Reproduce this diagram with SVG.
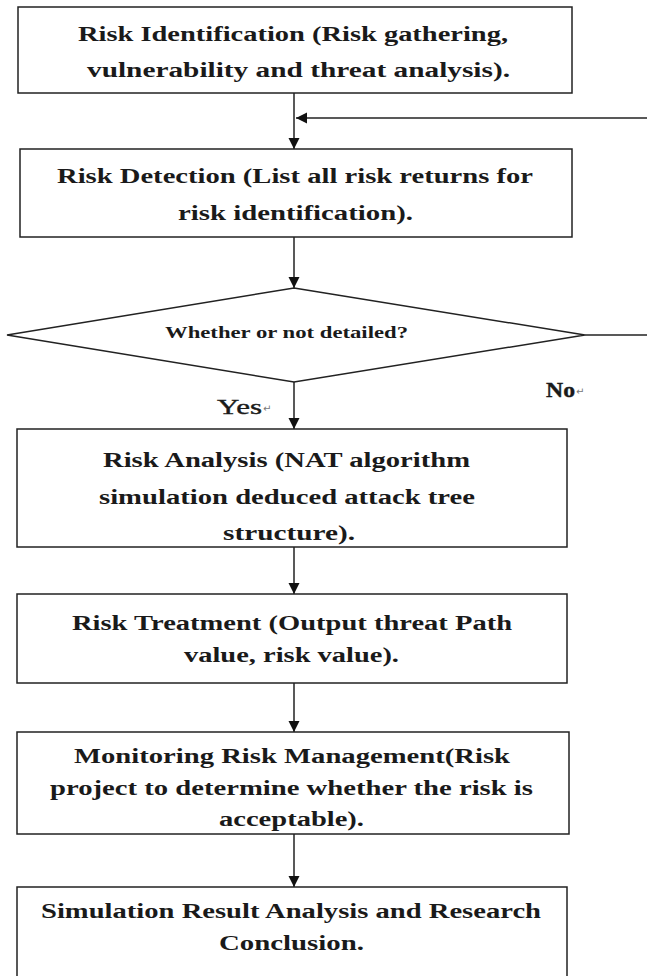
<svg xmlns="http://www.w3.org/2000/svg" width="647" height="976" viewBox="0 0 647 976">
<style>
.box{fill:#fff;stroke:#222;stroke-width:1.5}
.t{font-family:"Liberation Serif","Times New Roman",serif;font-weight:bold;font-size:20px;fill:#1a1a1a}
.d{font-family:"Liberation Serif","Times New Roman",serif;font-weight:bold;font-size:16px;fill:#1a1a1a}
.lbl{font-family:"Liberation Serif","Times New Roman",serif;font-size:22px;fill:#1a1a1a;stroke:#1a1a1a;stroke-width:0.4}
.ret{font-family:"DejaVu Sans",sans-serif;font-size:10px;fill:#777}
.c{fill:none;stroke:#222;stroke-width:1.5}
</style>
<defs>
<marker id="ah" markerUnits="userSpaceOnUse" markerWidth="12" markerHeight="12" refX="11" refY="6" orient="auto">
<path d="M0,0.5 L11,6 L0,11.5 z" fill="#111"/>
</marker>
<clipPath id="clip5"><rect x="17" y="732" width="552" height="101"/></clipPath>
</defs>
<rect width="647" height="976" fill="#fff"/>
<g id="connectors">
<line class="c" x1="294" y1="93" x2="294" y2="149" marker-end="url(#ah)"/>
<line class="c" x1="647" y1="118" x2="296" y2="118" marker-end="url(#ah)"/>
<line class="c" x1="294" y1="237" x2="294" y2="288" marker-end="url(#ah)"/>
<line class="c" x1="585" y1="335" x2="647" y2="335"/>
<line class="c" x1="294" y1="382" x2="294" y2="429" marker-end="url(#ah)"/>
<line class="c" x1="294" y1="547" x2="294" y2="594" marker-end="url(#ah)"/>
<line class="c" x1="294" y1="683" x2="294" y2="732" marker-end="url(#ah)"/>
<line class="c" x1="294" y1="834" x2="294" y2="887" marker-end="url(#ah)"/>
<text class="lbl" x="217" y="414" textLength="45" lengthAdjust="spacingAndGlyphs">Yes</text>
<text class="ret" x="263" y="412">↵</text>
<text class="lbl" x="546" y="397" font-weight="bold" textLength="29" lengthAdjust="spacingAndGlyphs">No</text>
<text class="ret" x="576" y="395">↵</text>
</g>
<g id="n1">
<rect class="box" x="18" y="7" width="554" height="86"/>
<text class="t" x="78" y="41" textLength="430" lengthAdjust="spacingAndGlyphs">Risk Identification (Risk gathering,</text>
<text class="t" x="87" y="77" textLength="423" lengthAdjust="spacingAndGlyphs">vulnerability and threat analysis).</text>
</g>
<g id="n2">
<rect class="box" x="20" y="149" width="552" height="88"/>
<text class="t" x="57" y="183" textLength="476" lengthAdjust="spacingAndGlyphs">Risk Detection (List all risk returns for</text>
<text class="t" x="178" y="220" textLength="235" lengthAdjust="spacingAndGlyphs">risk identification).</text>
</g>
<g id="n3">
<polygon class="box" points="294,288 585,335 294,382 7,335"/>
<text class="d" x="165" y="338" textLength="243" lengthAdjust="spacingAndGlyphs">Whether or not detailed?</text>
</g>
<g id="n4">
<rect class="box" x="17" y="429" width="550" height="118"/>
<text class="t" x="103" y="467" textLength="367" lengthAdjust="spacingAndGlyphs">Risk Analysis (NAT algorithm</text>
<text class="t" x="99" y="504" textLength="376" lengthAdjust="spacingAndGlyphs">simulation deduced attack tree</text>
<text class="t" x="223" y="540" textLength="132" lengthAdjust="spacingAndGlyphs">structure).</text>
</g>
<g id="n5">
<rect class="box" x="17" y="594" width="550" height="89"/>
<text class="t" x="72" y="630" textLength="440" lengthAdjust="spacingAndGlyphs">Risk Treatment (Output threat Path</text>
<text class="t" x="184" y="662" textLength="215" lengthAdjust="spacingAndGlyphs">value, risk value).</text>
</g>
<g id="n6">
<rect class="box" x="17" y="732" width="552" height="102"/>
<text class="t" x="74" y="763" textLength="436" lengthAdjust="spacingAndGlyphs">Monitoring Risk Management(Risk</text>
<text class="t" x="50" y="795" textLength="483" lengthAdjust="spacingAndGlyphs">project to determine whether the risk is</text>
<text class="t" x="219" y="826" textLength="145" lengthAdjust="spacingAndGlyphs" clip-path="url(#clip5)">acceptable).</text>
</g>
<g id="n7">
<rect class="box" x="17" y="887" width="550" height="92"/>
<text class="t" x="41" y="918" textLength="500" lengthAdjust="spacingAndGlyphs">Simulation Result Analysis and Research</text>
<text class="t" x="219" y="950" textLength="145" lengthAdjust="spacingAndGlyphs">Conclusion.</text>
</g>
</svg>
